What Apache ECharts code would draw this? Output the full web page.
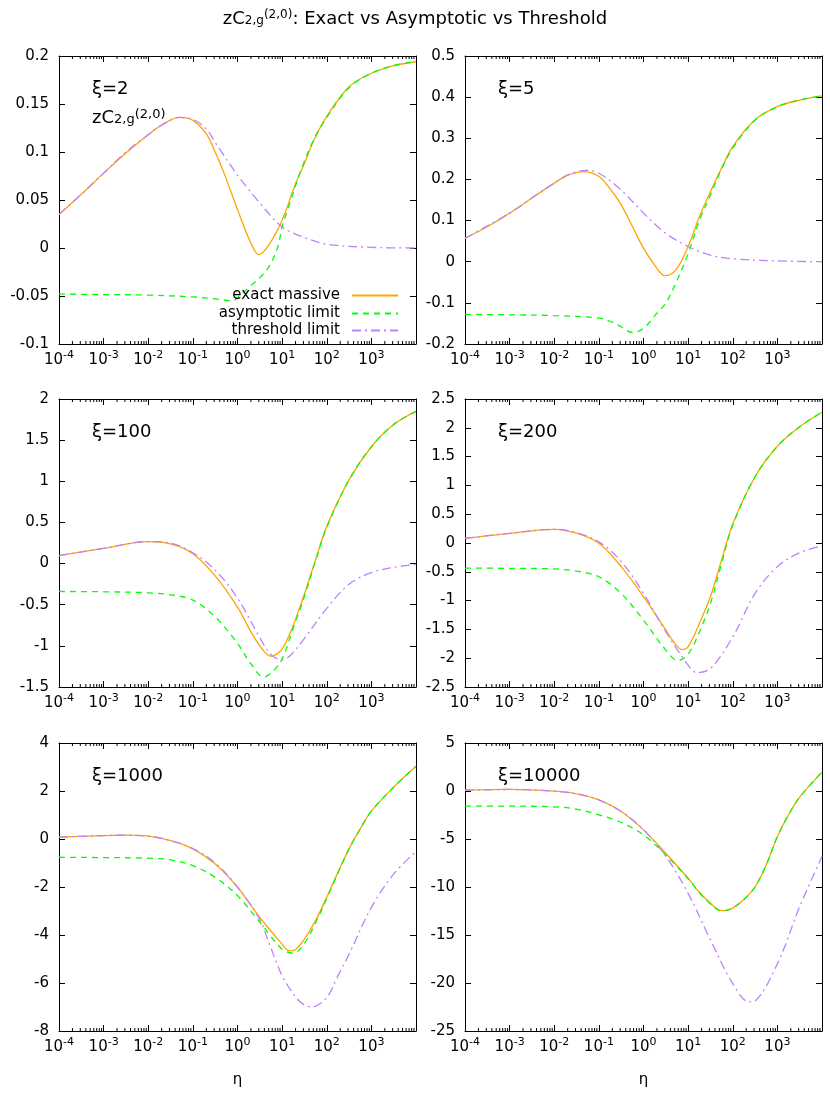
<!DOCTYPE html>
<html><head><meta charset="utf-8">
<script src="https://cdn.jsdelivr.net/npm/echarts@6/dist/echarts.min.js"></script>
<style>html,body{margin:0;padding:0;background:#fff}#c{width:830px;height:1107px}</style>
</head><body><div id="c"></div>
<script>
// ---------- DATA (eta, value) ----------
const xi2_exact = [[1e-4,0.035],[3.16e-4,0.056],[1e-3,0.078],[3.16e-3,0.099],[1e-2,0.118],[2e-2,0.128],[5e-2,0.136],[1e-1,0.133],[2e-1,0.119],[3.16e-1,0.100],[5e-1,0.078],[1,0.040],[2,0.005],[3,-0.007],[5,0.003],[10,0.029],[20,0.067],[31.6,0.088],[50,0.111],[100,0.137],[316,0.168],[1000,0.182],[3162,0.190],[1e4,0.194]];
const xi2_asym = [[1e-4,-0.048],[1e-3,-0.0485],[1e-2,-0.049],[1e-1,-0.051],[3.16e-1,-0.053],[8e-1,-0.055],[1,-0.052],[2,-0.039],[3,-0.032],[5,-0.020],[8,0.001],[10,0.022],[15,0.047],[25,0.078],[50,0.112],[100,0.136],[316,0.167],[1000,0.182],[3162,0.190],[1e4,0.194]];
const xi2_thr = [[1e-4,0.035],[3.16e-4,0.056],[1e-3,0.078],[3.16e-3,0.100],[1e-2,0.118],[2e-2,0.128],[5e-2,0.136],[1e-1,0.134],[2e-1,0.124],[3.16e-1,0.110],[1,0.076],[3.16,0.047],[10,0.022],[31.6,0.011],[100,0.004],[1000,0.0007],[1e4,0]];

const xi5_exact = [[1e-4,0.057],[3.16e-4,0.085],[1e-3,0.118],[3.16e-3,0.155],[1e-2,0.191],[2e-2,0.210],[4.5e-2,0.219],[1e-1,0.207],[2e-1,0.170],[3.16e-1,0.138],[5e-1,0.097],[1,0.033],[2,-0.016],[3,-0.034],[5.3,-0.020],[10,0.037],[18,0.110],[31.6,0.170],[56,0.227],[100,0.280],[316,0.345],[1000,0.377],[3162,0.393],[1e4,0.403]];
const xi5_asym = [[1e-4,-0.128],[1e-3,-0.129],[1e-2,-0.131],[1e-1,-0.137],[2e-1,-0.147],[3.16e-1,-0.158],[5.6e-1,-0.172],[1,-0.162],[2,-0.125],[3.16,-0.101],[5.3,-0.052],[10,0.020],[18,0.101],[31.6,0.162],[56,0.225],[100,0.276],[316,0.344],[1000,0.377],[3162,0.393],[1e4,0.403]];
const xi5_thr = [[1e-4,0.057],[1e-3,0.118],[3.16e-3,0.155],[1e-2,0.191],[2e-2,0.211],[5e-2,0.222],[1e-1,0.215],[3.16e-1,0.174],[1,0.118],[3.16,0.069],[10,0.037],[31.6,0.016],[100,0.007],[1000,0.002],[1e4,0]];

const xi100_exact = [[1e-4,0.096],[1e-3,0.185],[1e-2,0.267],[3.16e-2,0.240],[1e-1,0.120],[3.16e-1,-0.15],[1,-0.53],[2,-0.83],[3.16,-1.0],[4.5,-1.10],[5.7,-1.126],[7.5,-1.10],[10,-1.04],[15,-0.85],[25,-0.53],[31.6,-0.37],[56,0.043],[100,0.449],[316,1.017],[1000,1.42],[3162,1.69],[1e4,1.85]];
const xi100_asym = [[1e-4,-0.339],[1e-3,-0.343],[1e-2,-0.355],[3.16e-2,-0.38],[1e-1,-0.444],[3.16e-1,-0.647],[1,-0.97],[2,-1.22],[3.9,-1.378],[6,-1.32],[10,-1.16],[17.8,-0.78],[31.6,-0.40],[56,0.03],[100,0.44],[316,1.017],[1000,1.42],[3162,1.69],[1e4,1.85]];
const xi100_thr = [[1e-4,0.096],[1e-3,0.185],[1e-2,0.267],[3.16e-2,0.248],[1e-1,0.132],[3.16e-1,-0.08],[1,-0.42],[3.16,-0.90],[5.7,-1.11],[10,-1.17],[15,-1.12],[31.6,-0.91],[100,-0.545],[316,-0.25],[1000,-0.11],[3162,-0.046],[1e4,-0.01]];

const xi200_exact = [[1e-4,0.081],[1e-3,0.168],[1e-2,0.238],[3.16e-2,0.17],[1e-1,-0.006],[3.16e-1,-0.41],[1,-0.93],[3.16,-1.51],[5,-1.74],[7.2,-1.85],[10,-1.80],[17.8,-1.40],[31.6,-0.93],[56,-0.30],[100,0.33],[316,1.15],[1000,1.68],[3162,2.02],[1e4,2.27]];
const xi200_asym = [[1e-4,-0.435],[1e-3,-0.44],[1e-2,-0.45],[3.16e-2,-0.49],[1e-1,-0.586],[3.16e-1,-0.876],[1,-1.34],[3.16,-1.86],[5.9,-2.04],[10,-1.93],[17.8,-1.55],[31.6,-1.05],[56,-0.36],[100,0.31],[316,1.15],[1000,1.68],[3162,2.02],[1e4,2.27]];
const xi200_thr = [[1e-4,0.081],[1e-3,0.168],[1e-2,0.238],[3.16e-2,0.18],[1e-1,0.02],[3.16e-1,-0.32],[1,-0.876],[3.16,-1.54],[10,-2.12],[15.5,-2.25],[31.6,-2.18],[100,-1.63],[316,-0.876],[1000,-0.41],[3162,-0.17],[1e4,-0.05]];

const xi1000_exact = [[1e-4,0.075],[1e-3,0.144],[3.16e-3,0.158],[1e-2,0.116],[3.16e-2,-0.065],[1e-1,-0.41],[3.16e-1,-1.04],[1,-2.01],[3.16,-3.27],[10,-4.38],[14.5,-4.66],[20,-4.60],[31.6,-4.17],[56,-3.4],[100,-2.43],[178,-1.39],[316,-0.41],[562,0.42],[1000,1.16],[3162,2.16],[1e4,3.03]];
const xi1000_asym = [[1e-4,-0.76],[1e-3,-0.775],[1e-2,-0.80],[3.16e-2,-0.87],[1e-1,-1.11],[3.16e-1,-1.60],[1,-2.36],[3.16,-3.47],[10,-4.59],[17.8,-4.76],[31.6,-4.35],[56,-3.5],[100,-2.48],[178,-1.42],[316,-0.41],[562,0.42],[1000,1.16],[3162,2.16],[1e4,3.03]];
const xi1000_thr = [[1e-4,0.075],[1e-3,0.144],[3.16e-3,0.158],[1e-2,0.116],[3.16e-2,-0.065],[1e-1,-0.40],[3.16e-1,-1.0],[1,-2.0],[3.16,-3.35],[5,-4.3],[10,-5.7],[17.8,-6.45],[28,-6.85],[46,-7.0],[100,-6.6],[178,-5.7],[316,-4.8],[1000,-2.85],[3162,-1.46],[1e4,-0.52]];

const xi10000_exact = [[1e-4,0.09],[1e-3,0.16],[1e-2,-0.01],[3.16e-2,-0.29],[1e-1,-0.92],[3.16e-1,-2.13],[1,-4.05],[3.16,-6.48],[10,-9.09],[17.8,-10.55],[31.6,-11.7],[45,-12.3],[56,-12.47],[75,-12.4],[100,-12.2],[178,-11.3],[316,-10.0],[562,-7.7],[1000,-4.74],[1778,-2.48],[3162,-0.64],[1e4,1.97]];
const xi10000_asym = [[1e-4,-1.58],[1e-3,-1.58],[1e-2,-1.65],[3.16e-2,-1.89],[1e-1,-2.48],[3.16e-1,-3.28],[1,-4.57],[3.16,-6.66],[10,-9.15],[17.8,-10.6],[31.6,-11.75],[45,-12.35],[56,-12.5],[75,-12.42],[100,-12.2],[178,-11.3],[316,-10.0],[562,-7.7],[1000,-4.74],[1778,-2.48],[3162,-0.64],[1e4,1.97]];
const xi10000_thr = [[1e-4,0.09],[1e-3,0.16],[1e-2,-0.01],[3.16e-2,-0.29],[1e-1,-0.92],[3.16e-1,-2.13],[1,-4.05],[3.16,-6.8],[10,-10.66],[31.6,-15.5],[100,-20.06],[235,-21.97],[316,-21.87],[1000,-18.0],[3162,-12.05],[1e4,-6.83]];

const seriesNames = ['exact massive','asymptotic limit','threshold limit'];
const panelLabels = ['ξ=2','ξ=5','ξ=100','ξ=200','ξ=1000','ξ=10000'];
const panelData = [
  [xi2_exact, xi2_asym, xi2_thr],
  [xi5_exact, xi5_asym, xi5_thr],
  [xi100_exact, xi100_asym, xi100_thr],
  [xi200_exact, xi200_asym, xi200_thr],
  [xi1000_exact, xi1000_asym, xi1000_thr],
  [xi10000_exact, xi10000_asym, xi10000_thr]
];
const yMins = [-0.1,-0.2,-1.5,-2.5,-8,-25];
const yMaxs = [0.2,0.5,2,2.5,4,5];
const yIntervals = [0.05,0.1,0.5,0.5,2,5];
const xMin = 1e-4, xMax = 1e4;
const xTickExponents = [-4,-3,-2,-1,0,1,2,3];
const minorMultipliers = [2,3,4,5,6,7,8,9];

// ---------- LAYOUT ----------
const FONT = 'DejaVu Sans';
const colLeft = [59, 465];
const rowTop = [56, 399, 743];
const GW = 357, GH = 288;
const colors = ['#ffa500', '#00ff00', '#c080ff'];
const lineTypes = ['solid', [6,5], [9,4,2,4]];

const minorTicks = [];
xTickExponents.forEach(e => minorMultipliers.forEach(m => minorTicks.push(m * Math.pow(10, e))));

function richSet(big, small) {
  return {
    a: {fontSize:big, lineHeight:big, fontFamily:FONT, fontWeight:'normal', color:'#000', padding:[6,0,3,0]},
    b: {fontSize:small, lineHeight:small, fontFamily:FONT, fontWeight:'normal', color:'#000', verticalAlign:'bottom'},
    c: {fontSize:small, lineHeight:small, fontFamily:FONT, fontWeight:'normal', color:'#000', verticalAlign:'top'}
  };
}

const grids = [], xAxes = [], yAxes = [], series = [];
const titles = [{
  text: '{a|zC}{b|2,g}{c|(2,0)}{a|: Exact vs Asymptotic vs Threshold}',
  left: 'center', top: 4,
  textStyle: { fontWeight: 'normal', rich: richSet(18, 12) }
}];

const xRich = {
  a: {fontSize:15, lineHeight:15, fontFamily:FONT, color:'#000', padding:[5,0,0,0]},
  s: {fontSize:11, lineHeight:11, fontFamily:FONT, color:'#000', verticalAlign:'top'}
};

for (let i = 0; i < 6; i++) {
  const L = colLeft[i % 2], T = rowTop[Math.floor(i / 2)];
  grids.push({left: L, top: T, width: GW, height: GH, containLabel: false});
  const common = {
    type: 'log', logBase: 10, min: xMin, max: xMax, gridIndex: i, splitNumber: 8,
    axisLine: {show: true, onZero: false, lineStyle: {color: '#000', width: 1}},
    axisTick: {show: true, inside: true, length: 6, lineStyle: {color: '#000', width: 1}},
    splitLine: {show: false}, minorTick: {show: false}
  };
  xAxes.push(Object.assign({}, common, {
    position: 'bottom',
    axisLabel: {
      show: true, margin: 6, showMaxLabel: false,
      formatter: v => {
        const e = Math.round(Math.log10(v));
        if (xTickExponents.indexOf(e) < 0) return '';
        return '{a|10}{s|' + e + '}';
      },
      rich: xRich
    },
    name: i >= 4 ? 'η' : '', nameLocation: 'middle', nameGap: 42,
    nameTextStyle: {fontSize: 15, fontFamily: FONT, color: '#000'}
  }));
  xAxes.push(Object.assign({}, common, {position: 'top', axisLabel: {show: false}}));
  const yc = {
    type: 'value', gridIndex: i, min: yMins[i], max: yMaxs[i], interval: yIntervals[i],
    axisLine: {show: true, onZero: false, lineStyle: {color: '#000', width: 1}},
    axisTick: {show: true, inside: true, length: 6, lineStyle: {color: '#000', width: 1}},
    splitLine: {show: false}
  };
  yAxes.push(Object.assign({}, yc, {position: 'left',
    axisLabel: {show: true, margin: 10, fontSize: 15, fontFamily: FONT, color: '#000'}}));
  yAxes.push(Object.assign({}, yc, {position: 'right', axisLabel: {show: false}}));

  for (let k = 0; k < 3; k++) {
    series.push({
      type: 'line', name: seriesNames[k], xAxisIndex: 2 * i, yAxisIndex: 2 * i,
      data: panelData[i][k], showSymbol: false, symbol: 'none', smooth: 0.35,
      lineStyle: {color: colors[k], width: 1.3, type: lineTypes[k]},
      itemStyle: {color: colors[k]}, animation: false, clip: true, z: 2 + k
    });
  }
  const yLo = yMins[i], yHi = yMaxs[i];
  series.push({
    type: 'custom', xAxisIndex: 2 * i, yAxisIndex: 2 * i, silent: true, animation: false, z: 1,
    data: minorTicks.map(v => [v, yLo]),
    renderItem: (params, api) => {
      const b = api.coord([api.value(0), yLo]);
      const t = api.coord([api.value(0), yHi]);
      return {type: 'group', children: [
        {type: 'line', shape: {x1: b[0], y1: b[1], x2: b[0], y2: b[1] - 3}, style: {stroke: '#000', lineWidth: 1}},
        {type: 'line', shape: {x1: t[0], y1: t[1], x2: t[0], y2: t[1] + 3}, style: {stroke: '#000', lineWidth: 1}}
      ]};
    }
  });
  titles.push({text: panelLabels[i], left: L + 28, top: T + 19,
    textStyle: {fontSize: 18, fontWeight: 'normal', fontFamily: FONT, color: '#000'}});
}
titles.push({
  text: '{a|zC}{b|2,g}{c|(2,0)}', left: colLeft[0] + 28, top: rowTop[0] + 47,
  textStyle: { fontWeight: 'normal', rich: richSet(18, 13) }
});

const legendRowsTop = [283, 301, 318];
const legends = seriesNames.map((n, k) => ({
  data: [n], orient: 'horizontal', align: 'right', right: 426, top: legendRowsTop[k],
  itemWidth: 46, itemHeight: 14, itemGap: 0, selectedMode: false,
  itemStyle: {opacity: 0, borderWidth: 0},
  textStyle: {fontSize: 15, fontFamily: FONT, color: '#000', padding: [0, 7, 0, 0]}
}));

const chart = echarts.init(document.getElementById('c'), null, {renderer: 'canvas'});
chart.setOption({
  backgroundColor: '#fff', animation: false,
  title: titles, legend: legends, grid: grids, xAxis: xAxes, yAxis: yAxes, series: series
});
</script></body></html>
